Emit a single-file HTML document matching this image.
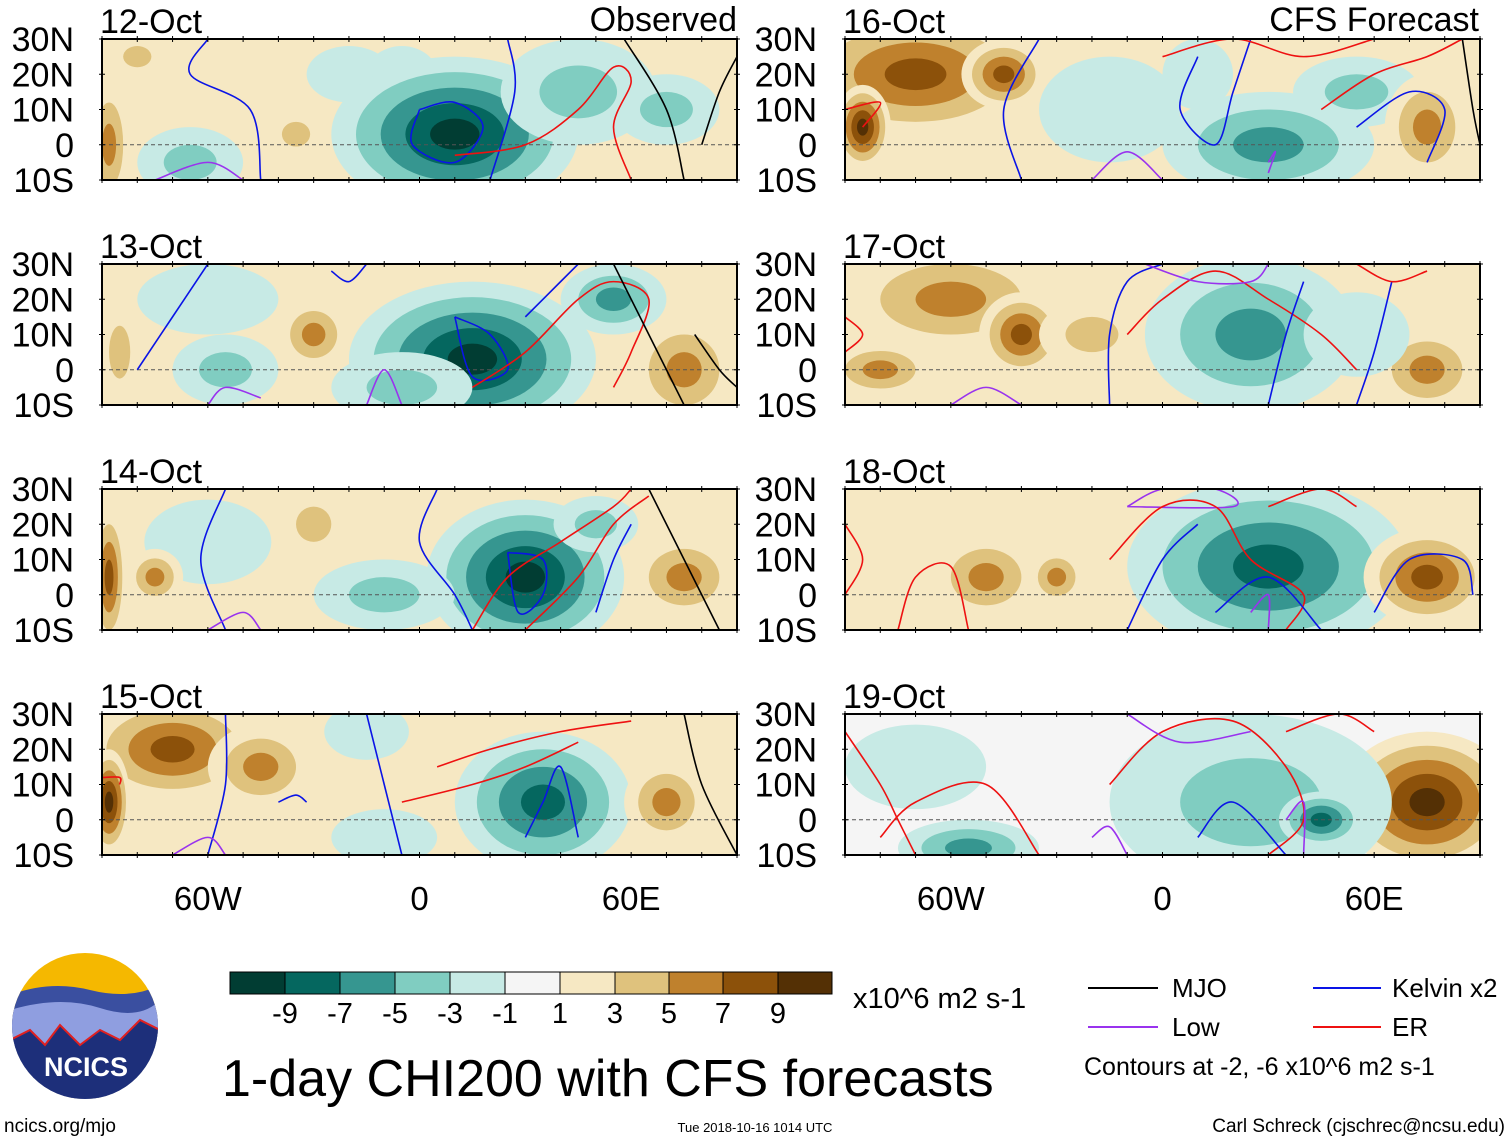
<!DOCTYPE html>
<html><head><meta charset="utf-8"><style>
body{margin:0;background:#fff;}
svg{display:block;font-family:"Liberation Sans",sans-serif;}
</style></head><body>
<svg id="chart" width="1510" height="1142" viewBox="0 0 1510 1142"></svg>
<script>
const dates=["12-Oct","13-Oct","14-Oct","15-Oct","16-Oct","17-Oct","18-Oct","19-Oct"];
const bgVals=[1,1,1,1,1,1,1,0];
// blobs: [lon, lat, rxDeg, ryDeg, peak]
const blobs0=[[-20,20,12,8,-1],[-5,20,10,8,-1],[10,3,35,22,-9],[45,15,22,15,-3],[-88,0,6,18,5],[-65,-5,15,10,-3],[-35,3,8,7,3],[-80,25,8,6,3],[70,10,15,10,-3]];
const blobs1=[[-60,20,20,10,-1],[15,3,35,22,-9],[55,20,15,10,-5],[-5,-5,20,10,-3],[-30,10,10,10,5],[75,0,15,15,5],[-85,5,6,15,3],[-55,0,15,10,-3]];
const blobs2=[[-60,15,18,12,-1],[30,5,28,22,-9],[-88,5,5,20,7],[-75,5,8,8,5],[-30,20,10,10,3],[75,5,15,12,5],[-10,0,20,10,-3],[50,20,12,8,-3]];
const blobs3=[[-10,-5,15,8,-1],[-15,25,12,8,-1],[-70,20,25,15,7],[-88,5,6,15,9],[-45,15,15,12,5],[35,5,25,20,-7],[70,5,12,12,5]];
const blobs4=[[-15,10,20,15,-1],[10,20,10,10,-1],[-70,20,35,18,7],[-85,5,8,12,9],[-45,20,12,10,7],[30,0,30,15,-5],[55,15,18,10,-3],[75,5,12,15,5]];
const blobs5=[[-60,20,30,15,5],[-40,10,12,12,7],[-80,0,15,8,5],[25,10,30,22,-5],[75,0,15,12,5],[-20,10,15,10,3],[55,10,15,12,-1]];
const blobs6=[[-75,25,15,8,1],[30,8,40,25,-7],[75,5,18,14,7],[-50,5,15,12,5],[-30,5,8,8,5]];
const blobs7=[[-70,15,20,12,-1],[75,5,25,20,9],[-55,-8,20,8,-5],[25,5,40,25,-3],[45,0,12,8,-7]];
const allBlobs=[blobs0,blobs1,blobs2,blobs3,blobs4,blobs5,blobs6,blobs7];
// contour lines: [type, [[lon,lat],...]]  k=Kelvin, r=ER, p=Low, m=MJO
const lines0=[["k",[[-60,30],[-65,20],[-48,10],[-45,-10]]],["k",[[0,10],[10,12],[18,5],[10,-5],[-2,0],[0,10]]],["k",[[25,30],[27,15],[20,-10]]],["r",[[10,-3],[30,0],[45,10],[55,22],[60,18],[55,5],[60,-10]]],["m",[[58,30],[70,10],[75,-10]]],["m",[[80,0],[85,15],[90,25]]],["p",[[-75,-10],[-60,-5],[-50,-10]]]];
const lines1=[["k",[[-60,30],[-70,15],[-80,0]]],["k",[[-25,28],[-20,25],[-15,30]]],["k",[[10,15],[20,10],[25,0],[15,-2],[10,15]]],["k",[[30,15],[40,25],[45,30]]],["r",[[15,-5],[30,5],[45,20],[55,25],[65,20],[60,5],[55,-5]]],["m",[[55,30],[65,10],[75,-10]]],["m",[[78,10],[85,0],[90,-5]]],["p",[[-60,-10],[-55,-5],[-45,-8]]],["p",[[-15,-10],[-10,0],[-5,-10]]]];
const lines2=[["k",[[-55,30],[-62,10],[-55,-10]]],["k",[[5,30],[0,15],[10,0],[15,-10]]],["k",[[25,12],[35,10],[35,0],[28,-5],[25,12]]],["r",[[15,-10],[25,5],[40,15],[55,25],[60,30]]],["r",[[30,-10],[45,5],[55,20],[65,28]]],["m",[[65,30],[75,10],[85,-10]]],["k",[[50,-5],[55,10],[60,20]]],["p",[[-60,-10],[-50,-5],[-45,-10]]]];
const lines3=[["k",[[-55,30],[-55,10],[-60,-10]]],["k",[[-15,30],[-10,10],[-5,-10]]],["k",[[-40,5],[-35,7],[-32,5]]],["r",[[-90,12],[-85,12],[-85,10]]],["r",[[5,15],[20,20],[40,25],[60,28]]],["r",[[-5,5],[15,10],[30,15],[45,22]]],["k",[[30,-5],[35,5],[40,15],[45,-5]]],["m",[[75,30],[80,10],[90,-10]]],["p",[[-70,-10],[-60,-5],[-55,-10]]]];
const lines4=[["k",[[-35,30],[-45,10],[-40,-10]]],["k",[[10,25],[5,10],[15,0],[20,15],[25,30]]],["r",[[-90,10],[-80,12],[-85,5]]],["r",[[0,25],[20,30],[40,25],[60,30]]],["r",[[45,10],[60,20],[75,25],[85,30]]],["k",[[55,5],[70,15],[80,10],[75,-5]]],["m",[[85,30],[88,10],[90,0]]],["p",[[-20,-10],[-10,-2],[0,-10]]],["p",[[30,-5],[32,-2],[30,-8]]]];
const lines5=[["r",[[-90,15],[-85,10],[-90,5]]],["k",[[-15,-10],[-15,10],[-10,25],[0,30]]],["r",[[-10,10],[0,20],[15,28],[30,20],[45,10],[55,0]]],["p",[[-5,30],[10,25],[25,25],[30,30]]],["k",[[30,-10],[35,10],[40,25]]],["k",[[55,-10],[60,5],[65,25]]],["p",[[-60,-10],[-50,-5],[-40,-10]]],["r",[[55,30],[65,25],[75,28]]]];
const lines6=[["r",[[-90,20],[-85,10],[-90,0]]],["r",[[-75,-10],[-70,5],[-60,8],[-55,-10]]],["p",[[-10,25],[0,30],[15,30],[20,25],[-10,25]]],["r",[[-15,10],[0,25],[15,25],[25,10],[40,0],[35,-10]]],["k",[[-10,-10],[0,10],[10,20]]],["k",[[15,-5],[30,5],[45,-10]]],["r",[[30,25],[45,30],[55,25]]],["k",[[60,-5],[70,10],[85,10],[88,0]]],["p",[[25,-5],[30,0],[30,-10]]]];
const lines7=[["r",[[-90,25],[-80,10],[-75,0],[-70,-10]]],["r",[[-80,-5],[-70,5],[-50,10],[-35,-10]]],["r",[[-15,10],[0,25],[20,28],[35,15],[40,0],[30,-10]]],["p",[[-10,30],[5,22],[25,25]]],["k",[[10,-5],[20,5],[35,-10]]],["p",[[-20,-5],[-15,-2],[-10,-10]]],["p",[[35,0],[40,5],[40,-10]]],["r",[[35,25],[50,30],[60,25]]]];
const allLines=[lines0,lines1,lines2,lines3,lines4,lines5,lines6,lines7];
const cbLabels=["-9","-7","-5","-3","-1","1","3","5","7","9"];
const cbColors=["#013d33","#05675f","#369690","#80cdc1","#c7eae5","#f5f5f5","#f6e8c3","#dfc27d","#bf812d","#8c510a","#543005"];
const latTicks=["30N","20N","10N","0","10S"];
const lonTicks=[["60W",-60],["0",0],["60E",60]];

const svg=document.getElementById('chart');
const NS="http://www.w3.org/2000/svg";
function mk(tag,attrs,parent){const e=document.createElementNS(NS,tag);for(const k in attrs)e.setAttribute(k,attrs[k]);(parent||svg).appendChild(e);return e;}
function colorFor(v){
  if(v<=-9)return cbColors[0];if(v<=-7)return cbColors[1];if(v<=-5)return cbColors[2];if(v<=-3)return cbColors[3];if(v<=-1)return cbColors[4];
  if(v<1)return cbColors[5];if(v<3)return cbColors[6];if(v<5)return cbColors[7];if(v<7)return cbColors[8];if(v<9)return cbColors[9];return cbColors[10];}
function smooth(pts){
  let d='M'+pts[0][0]+' '+pts[0][1];
  for(let i=0;i<pts.length-1;i++){
    const p0=pts[Math.max(i-1,0)],p1=pts[i],p2=pts[i+1],p3=pts[Math.min(i+2,pts.length-1)];
    const c1=[p1[0]+(p2[0]-p0[0])/6,p1[1]+(p2[1]-p0[1])/6],c2=[p2[0]-(p3[0]-p1[0])/6,p2[1]-(p3[1]-p1[1])/6];
    d+=' C'+c1[0]+' '+c1[1]+' '+c2[0]+' '+c2[1]+' '+p2[0]+' '+p2[1];
  }
  return d;
}
const lineCol={k:"#0a14e6",r:"#ee1111",p:"#9933ee",m:"#000"};
const W=635,H=141,tops=[39,264,489,714],lefts=[102,845];

for(let i=0;i<8;i++){
  const x0=lefts[i<4?0:1],y0=tops[i%4];
  const xs=lon=>x0+(lon+90)/180*W, ys=lat=>y0+(30-lat)/40*H;
  const g=mk('g',{},svg);
  
  
  mk('clipPath',{id:'cp'+i},g);
  mk('rect',{x:x0,y:y0,width:W,height:H},document.getElementById('cp'+i));
  const inner=mk('g',{'clip-path':'url(#cp'+i+')'},g);
  mk('rect',{x:x0,y:y0,width:W,height:H,fill:colorFor(bgVals[i])},inner);
  for(const b of allBlobs[i]){
    const [lon,lat,rx,ry,v]=b, s=Math.sign(v), n=Math.floor((Math.abs(v)+1)/2);
    for(let k=0;k<n;k++){
      const f=1-k/n, lv=s*(2*k+1);
      const el=mk('ellipse',{cx:xs(lon),cy:ys(lat),rx:rx*f*W/180,ry:ry*f*H/40,fill:colorFor(lv)},inner);
      
      
    }
  }
  mk('line',{x1:x0,x2:x0+W,y1:ys(0),y2:ys(0),stroke:"#555","stroke-dasharray":"4,3","stroke-width":1},inner);
  for(const ln of allLines[i]){
    const p=mk('path',{d:smooth(ln[1].map(q=>[xs(q[0]),ys(q[1])])),fill:'none',stroke:lineCol[ln[0]],'stroke-width':1.6},inner);
    
    
  }
  mk('rect',{x:x0,y:y0,width:W,height:H,fill:'none',stroke:'#000','stroke-width':2},g);
  for(let lon=-90;lon<=90;lon+=10){const x=xs(lon);mk('line',{x1:x,x2:x,y1:y0-3,y2:y0+3,stroke:'#000'},g);mk('line',{x1:x,x2:x,y1:y0+H-3,y2:y0+H+3,stroke:'#000'},g);}
  for(let lat=-10;lat<=30;lat+=10){const y=ys(lat);mk('line',{x1:x0-3,x2:x0+3,y1:y,y2:y,stroke:'#000'},g);mk('line',{x1:x0+W-3,x2:x0+W+3,y1:y,y2:y,stroke:'#000'},g);}
  const t=mk('text',{x:x0-2,y:y0-6,'font-size':34},g);t.textContent=dates[i];
  
  latTicks.forEach((lb,j)=>{const tt=mk('text',{x:x0-28,y:y0+j*H/4+12,'font-size':34,'text-anchor':'end'},g);tt.textContent=lb;
    });
  if(i%4===3){lonTicks.forEach(([lb,lon])=>{const tt=mk('text',{x:xs(lon),y:910,'font-size':33,'text-anchor':'middle'},g);tt.textContent=lb;
    });}
}
</script>
<svg width="1510" height="1142" style="position:absolute;left:0;top:0">
<text x="737" y="31" font-size="34" text-anchor="end">Observed</text>
<text x="1479" y="31" font-size="34" text-anchor="end">CFS Forecast</text>
<g>
<rect x="230" y="972" width="55" height="22" fill="#013d33"/><rect x="285" y="972" width="55" height="22" fill="#05675f"/><rect x="340" y="972" width="55" height="22" fill="#369690"/><rect x="395" y="972" width="55" height="22" fill="#80cdc1"/><rect x="450" y="972" width="55" height="22" fill="#c7eae5"/><rect x="505" y="972" width="55" height="22" fill="#f5f5f5"/><rect x="560" y="972" width="55" height="22" fill="#f6e8c3"/><rect x="615" y="972" width="54" height="22" fill="#dfc27d"/><rect x="669" y="972" width="54" height="22" fill="#bf812d"/><rect x="723" y="972" width="55" height="22" fill="#8c510a"/><rect x="778" y="972" width="54" height="22" fill="#543005"/>
<g stroke="#000" stroke-width="1" fill="none"><rect x="230" y="972" width="602" height="22"/><path d="M285 972v22M340 972v22M395 972v22M450 972v22M505 972v22M560 972v22M615 972v22M669 972v22M723 972v22M778 972v22"/></g>
<g font-size="29" text-anchor="middle"><text x="285" y="1023">-9</text><text x="340" y="1023">-7</text><text x="395" y="1023">-5</text><text x="450" y="1023">-3</text><text x="505" y="1023">-1</text><text x="560" y="1023">1</text><text x="615" y="1023">3</text><text x="669" y="1023">5</text><text x="723" y="1023">7</text><text x="778" y="1023">9</text></g>
</g>
<text x="853" y="1008" font-size="29">x10^6 m2 s-1</text>
<text x="222" y="1096" font-size="52">1-day CHI200 with CFS forecasts</text>
<g font-size="26">
<line x1="1088" x2="1158" y1="988" y2="988" stroke="#000" stroke-width="2"/><text x="1172" y="997">MJO</text>
<line x1="1313" x2="1381" y1="988" y2="988" stroke="#0a14e6" stroke-width="2"/><text x="1392" y="997">Kelvin x2</text>
<line x1="1088" x2="1158" y1="1027" y2="1027" stroke="#9933ee" stroke-width="2"/><text x="1172" y="1036">Low</text>
<line x1="1313" x2="1381" y1="1027" y2="1027" stroke="#ee1111" stroke-width="2"/><text x="1392" y="1036">ER</text>
<text x="1084" y="1075" font-size="25">Contours at -2, -6 x10^6 m2 s-1</text>
</g>
<g>
<clipPath id="lc"><circle cx="85" cy="1026" r="73"/></clipPath>
<g clip-path="url(#lc)">
<rect x="10" y="952" width="150" height="150" fill="#f5b800"/>
<path d="M10 995 Q50 980 90 990 T160 985 V1102 H10Z" fill="#3a4fa0"/>
<path d="M10 1010 Q60 995 100 1008 T160 1000 V1102 H10Z" fill="#8f9ee0"/>
<path d="M10 1040 L30 1030 L45 1045 L60 1025 L80 1045 L100 1030 L120 1040 L140 1020 L160 1030 V1102 H10Z" fill="#1d2f7a" stroke="#e02020" stroke-width="2"/>
</g>
<text x="86" y="1076" font-size="27" font-weight="bold" fill="#fff" text-anchor="middle">NCICS</text>
</g>
<text x="4" y="1132" font-size="19">ncics.org/mjo</text>
<text x="755" y="1132" font-size="13" text-anchor="middle">Tue 2018-10-16 1014 UTC</text>
<text x="1505" y="1132" font-size="19" text-anchor="end">Carl Schreck (cjschrec@ncsu.edu)</text>
</svg>
</body></html>
